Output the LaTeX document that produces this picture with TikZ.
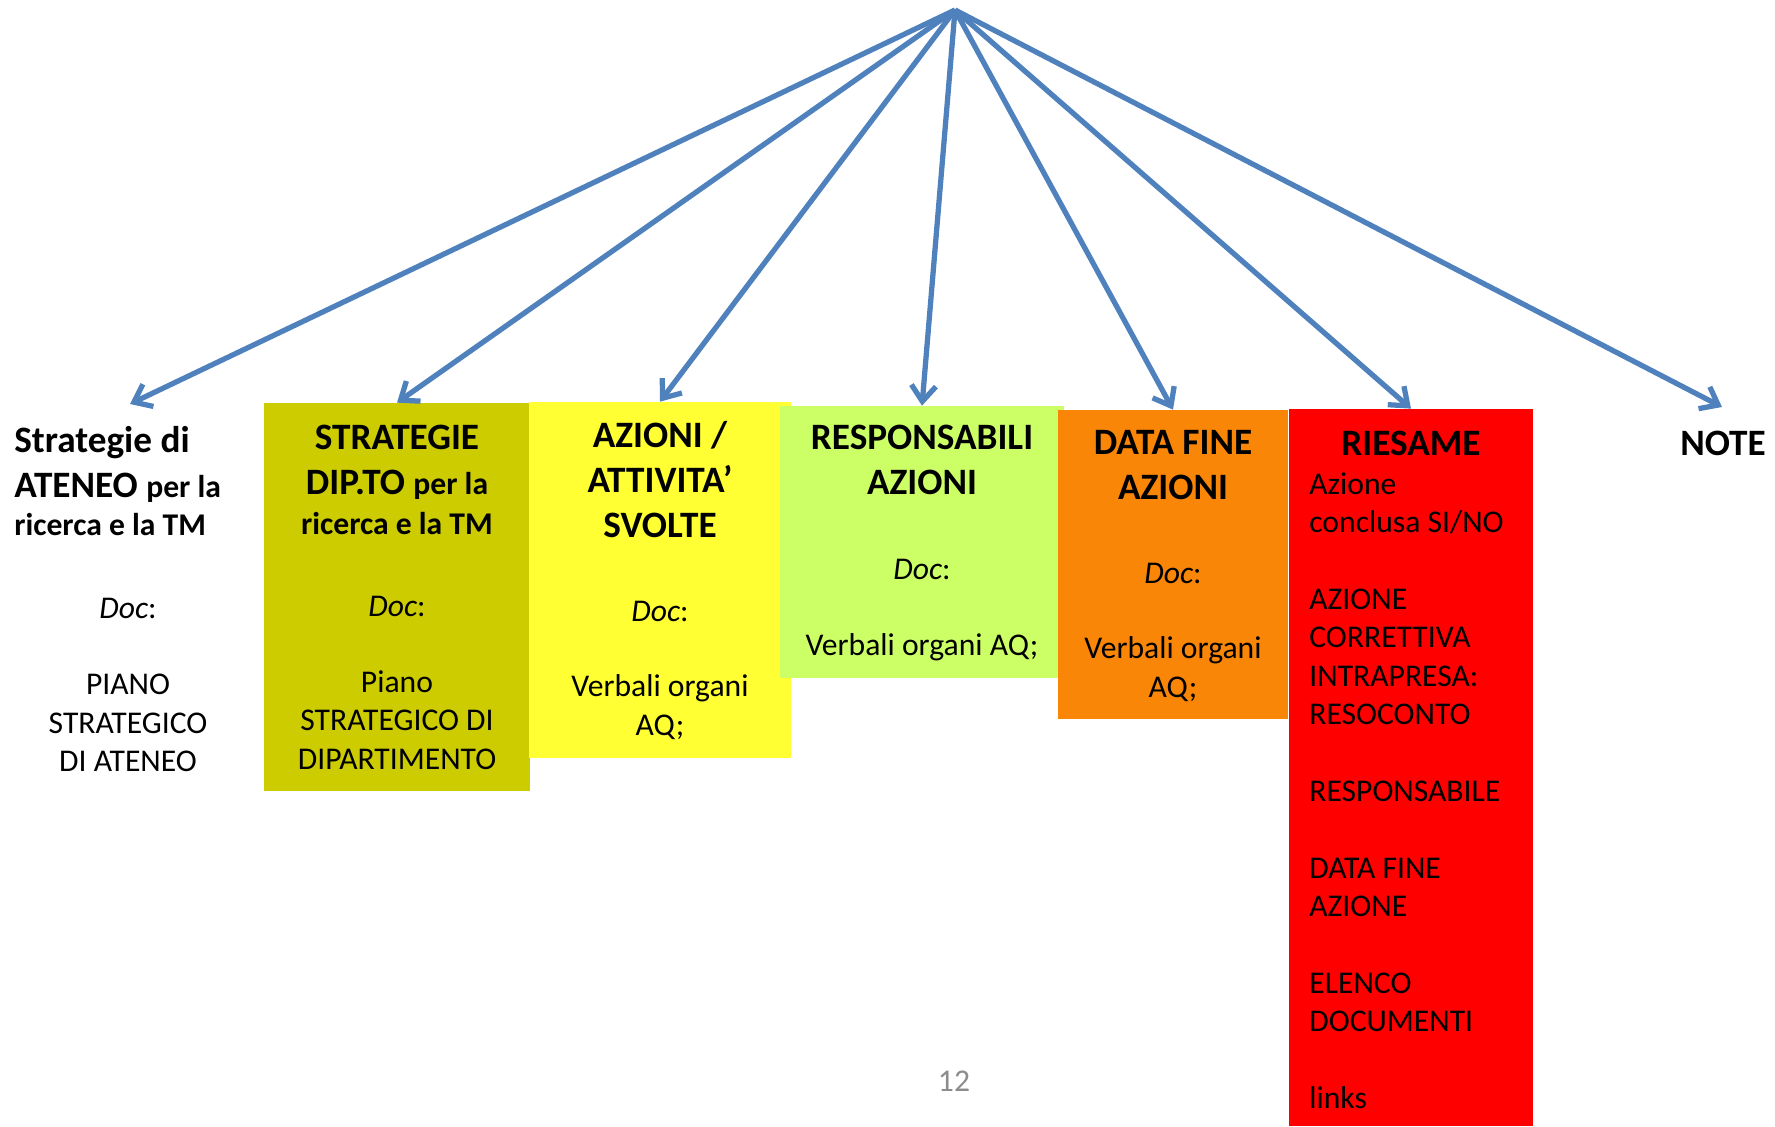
\documentclass[tikz,border=0pt]{standalone}
\usepackage{fontspec}
\setmainfont{Carlito}
\usetikzlibrary{arrows.meta,fit}
\definecolor{olivefill}{HTML}{CCCC00}
\definecolor{yellowfill}{HTML}{FFFF33}
\definecolor{greenfill}{HTML}{CCFF66}
\definecolor{orangefill}{HTML}{FA8607}
\definecolor{redfill}{HTML}{FF0000}
\definecolor{arrowblue}{HTML}{4F81BD}
\definecolor{pagegray}{HTML}{8C8C8C}
\newcommand{\smallhead}[1]{{\fontsize{18}{21.85}\selectfont #1}}

\begin{document}
\begin{tikzpicture}[x=0.02cm, y=-0.02cm,
  colbox/.style={inner sep=0pt, draw=none},
  headtxt/.style={font=\fontsize{21.2}{25.6}\selectfont\bfseries, align=center, inner sep=0pt},
  bodytxt/.style={font=\fontsize{18}{21.85}\selectfont, align=center, inner sep=0pt},
  arrowline/.style={arrowblue, line width=3pt, -{Straight Barb[length=9pt,width=14pt]}}]
  \useasboundingbox (0,0) rectangle (1775,1126);

  % Boxes
  \node[colbox, fill=olivefill, fit={(264,403) (530,791)}] (dip) {};
  \node[colbox, fill=yellowfill, fit={(529,402) (791,758)}] (azioni) {};
  \node[colbox, fill=greenfill, fit={(780,406) (1064,678)}] (resp) {};
  \node[colbox, fill=orangefill, fit={(1058,410) (1288,719)}] (datafine) {};
  \node[colbox, fill=redfill, fit={(1289,409) (1533,1126)}] (riesame) {};

  % Arrows
  \coordinate (apex) at (955,10);
  \coordinate (ateneotip) at (130,404);
  \coordinate (notetip) at (1722,407);
  \foreach \target in {ateneotip, dip.north, azioni.north, resp.north, datafine.north, riesame.north, notetip}
    \draw[arrowline] (apex) -- (\target);

  % Strategie di Ateneo
  \node[headtxt, align=left, anchor=west] (ateneohead) at (14,481) {Strategie di\\ ATENEO \smallhead{per la}\\[-3.5pt] \smallhead{ricerca e la TM}};
  \node[bodytxt] (ateneodoc) at (128,608) {\textit{Doc}:};
  \node[bodytxt] (ateneobody) at (128,723) {PIANO\\ STRATEGICO\\ DI ATENEO};

  % Strategie dipartimento
  \node[headtxt] (diphead) at (397,480) {STRATEGIE\\ DIP.TO \smallhead{per la}\\[-3pt] \smallhead{ricerca e la TM}};
  \node[bodytxt] (dipdoc) at (397,606) {\textit{Doc}:};
  \node[bodytxt] (dipbody) at (397,720) {Piano\\ STRATEGICO DI\\ DIPARTIMENTO};

  % Azioni
  \node[headtxt] (azionihead) at (660,480) {AZIONI /\\ ATTIVITA’\\ SVOLTE};
  \node[bodytxt] (azionidoc) at (660,611) {\textit{Doc}:};
  \node[bodytxt] (azionibody) at (660,707) {Verbali organi\\ AQ;};

  % Responsabili
  \node[headtxt] (resphead) at (922,460) {RESPONSABILI\\ AZIONI};
  \node[bodytxt] (respdoc) at (922,569) {\textit{Doc}:};
  \node[bodytxt] (respbody) at (922,647) {Verbali organi AQ;};

  % Data fine
  \node[headtxt] (datahead) at (1173,465) {DATA FINE\\ AZIONI};
  \node[bodytxt] (datadoc) at (1173,573) {\textit{Doc}:};
  \node[bodytxt] (databody) at (1173,669) {Verbali organi\\ AQ;};

  % Riesame
  \node[headtxt] (riesamehead) at (1411,443) {RIESAME};
  \node[bodytxt, align=left, anchor=north west] (riesamebody) at (1309,472) {Azione\\ conclusa SI/NO\\ \\ AZIONE\\ CORRETTIVA\\ INTRAPRESA:\\ RESOCONTO\\ \\ RESPONSABILE\\ \\ DATA FINE\\ AZIONE\\ \\ ELENCO\\ DOCUMENTI\\ \\ links};

  % Note and page number
  \node[headtxt] (notehead) at (1723,443) {NOTE};
  \node[bodytxt, text=pagegray] (pagenum) at (954,1081) {12};
\end{tikzpicture}
\end{document}
